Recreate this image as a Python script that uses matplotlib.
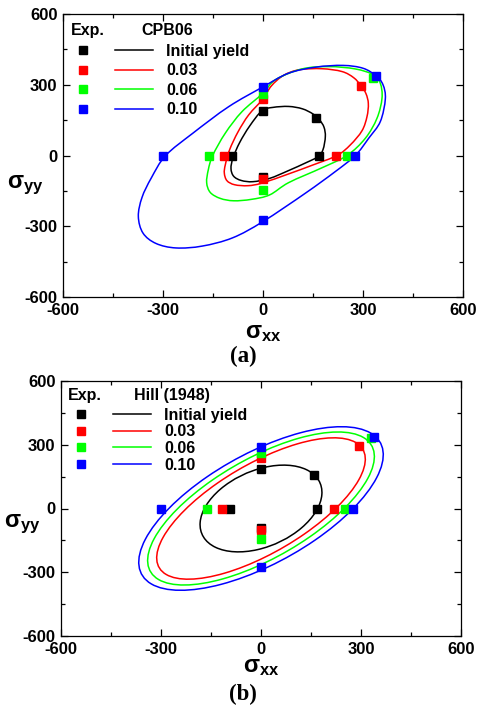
import numpy as np
import matplotlib
matplotlib.use('Agg')
import matplotlib.pyplot as plt
from matplotlib.path import Path
from matplotlib.patches import PathPatch, Ellipse
from matplotlib.lines import Line2D

plt.rcParams['font.family'] = 'Liberation Sans'
plt.rcParams['font.weight'] = 'bold'
plt.rcParams['axes.unicode_minus'] = False
plt.rcParams['mathtext.fontset'] = 'custom'
plt.rcParams['mathtext.rm'] = 'Liberation Sans:bold'
plt.rcParams['mathtext.it'] = 'Liberation Sans:bold'
plt.rcParams['mathtext.bf'] = 'Liberation Sans:bold'

levels = ['Initial yield', '0.03', '0.06', '0.10']
colors = ['#000000', '#ff0000', '#00ff00', '#0000ff']

# experimental yield points per strain level
exp_xx = [[0, 160, 167, -93, 0],
          [0, 294, 220, -118, 0],
          [0, 329, 252, -163, 0],
          [0, 339, 276, -300, 0]]
exp_yy = [[188, 158, 0, 0, -90],
          [239, 295, 0, 0, -100],
          [262, 330, 0, 0, -145],
          [290, 338, 0, 0, -275]]

# CPB06 yield loci
cpb_init_x = [187, 183, 170, 150, 118, 77, 30, -3, -40, -70, -90, -96, -88, -65, -30, 20, 75, 130, 165, 180]
cpb_init_y = [80, 120, 150, 176, 198, 208, 204, 190, 125, 55, -10, -55, -88, -106, -111, -97, -65, -30, -5, 25]
cpb_003_x = [312, 316, 309, 294, 272, 237, 177, 110, 62, 25, 0, -43, -75, -100, -113, -116, -108, -85, -45, -3, 77, 150, 222, 262, 297]
cpb_003_y = [165, 220, 262, 296, 330, 356, 368, 364, 340, 295, 240, 172, 100, 25, -39, -75, -107, -124, -128, -117, -78, -40, 0, 45, 105]
cpb_006_x = [357, 352, 332, 277, 197, 117, 37, 0, -63, -113, -151, -164, -169, -158, -128, -88, -35, 20, 77, 177, 252, 307, 342]
cpb_006_y = [243, 306, 342, 367, 377, 367, 321, 264, 186, 95, 0, -60, -115, -157, -182, -192, -186, -167, -115, -52, 0, 73, 158]
cpb_010_x = [367, 360, 339, 300, 240, 160, 77, 0, -103, -210, -292, -335, -363, -374, -360, -321, -261, -182, -91, 0, 127, 217, 277, 317, 352]
cpb_010_y = [240, 300, 338, 370, 382, 375, 349, 291, 207, 95, 0, -95, -178, -258, -329, -373, -392, -384, -349, -280, -160, -68, 0, 73, 144]

# Hill (1948) loci: semi-axes and tilt of each ellipse
hill_a = [228, 421, 454, 484]
hill_b = [152, 177, 198, 220]
hill_angle = [53.3, 47.5, 47.4, 47.1]


def closed_curve(xs, ys):
    p = np.column_stack([xs, ys]).astype(float)
    n = len(p)
    verts = [p[0]]
    codes = [Path.MOVETO]
    for i in range(n):
        p0, p1, p2, p3 = p[i - 1], p[i], p[(i + 1) % n], p[(i + 2) % n]
        verts += [p1 + (p2 - p0) / 6, p2 - (p3 - p1) / 6, p2]
        codes += [Path.CURVE4] * 3
    return Path(verts, codes)


def setup(ax, model, hx, hy, lx, ly, leg_y, yl, xl, fs, spacing):
    ax.set_xlim(-600, 600)
    ax.set_ylim(-600, 600)
    ax.set_xticks([-600, -300, 0, 300, 600])
    ax.set_yticks([-600, -300, 0, 300, 600])
    ax.set_xticks([-450, -150, 150, 450], minor=True)
    ax.set_yticks([-450, -150, 150, 450], minor=True)
    ax.tick_params(which='both', direction='in', top=True, right=True, width=0.9)
    ax.tick_params(which='major', length=5, labelsize=12, pad=4)
    ax.tick_params(which='minor', length=3)
    for s in ax.spines.values():
        s.set_linewidth(0.9)
    ax.set_xlabel(r'$\sigma_{xx}$', fontsize=17, va='center')
    ax.xaxis.set_label_coords(0.5, xl)
    ax.set_ylabel(r'$\sigma_{yy}$', fontsize=17, rotation=0, ha='center', va='center')
    ax.yaxis.set_label_coords(yl[0], yl[1])

    for i in range(4):
        ax.plot(exp_xx[i], exp_yy[i], 's', color=colors[i], markersize=5.8, zorder=5)

    ax.text(hx, hy, 'Exp.', transform=ax.transAxes, fontsize=fs, va='center', ha='left')
    ax.text(lx, ly, model, transform=ax.transAxes, fontsize=fs, va='center', ha='left')
    handles = [Line2D([], [], marker='s', ls='none', color=c, markersize=5.8) for c in colors]
    handles += [Line2D([], [], color=c, lw=1.1) for c in colors]
    labels = [''] * 4 + levels
    ax.legend(handles, labels, ncol=2, loc='upper left', bbox_to_anchor=(0.0025, leg_y),
              frameon=False, borderpad=0, borderaxespad=0, handlelength=2.4,
              handletextpad=0.8, columnspacing=0, labelspacing=spacing, fontsize=fs)


fig = plt.figure(figsize=(4.8, 7.08), dpi=100)
ax1 = fig.add_axes([63 / 480, 1 - 297 / 708, 400 / 480, 283 / 708])
ax2 = fig.add_axes([61 / 480, 1 - 636 / 708, 400 / 480, 255 / 708])

cpb_x = [cpb_init_x, cpb_003_x, cpb_006_x, cpb_010_x]
cpb_y = [cpb_init_y, cpb_003_y, cpb_006_y, cpb_010_y]
for i in range(4):
    ax1.add_patch(PathPatch(closed_curve(cpb_x[i], cpb_y[i]), fill=False, edgecolor=colors[i], lw=1.1))
    ax2.add_patch(Ellipse((0, 0), 2 * hill_a[i], 2 * hill_b[i], angle=hill_angle[i],
                          fill=False, edgecolor=colors[i], lw=1.1))

setup(ax1, 'CPB06', 0.02, 0.94, 0.195, 0.94, 0.894, (-0.095, 0.396), -0.127, 11.5, 0.28)
setup(ax2, 'Hill (1948)', 0.0175, 0.942, 0.1825, 0.942, 0.895, (-0.0975, 0.44), -0.122, 11.5, 0.1)

fig.text(243 / 480, 1 - 356 / 708, '(a)', ha='center', va='center', fontsize=16.5,
         family='Liberation Serif', weight='bold')
fig.text(243 / 480, 1 - 694 / 708, '(b)', ha='center', va='center', fontsize=16.5,
         family='Liberation Serif', weight='bold')

fig.savefig('out.png', dpi=100)
